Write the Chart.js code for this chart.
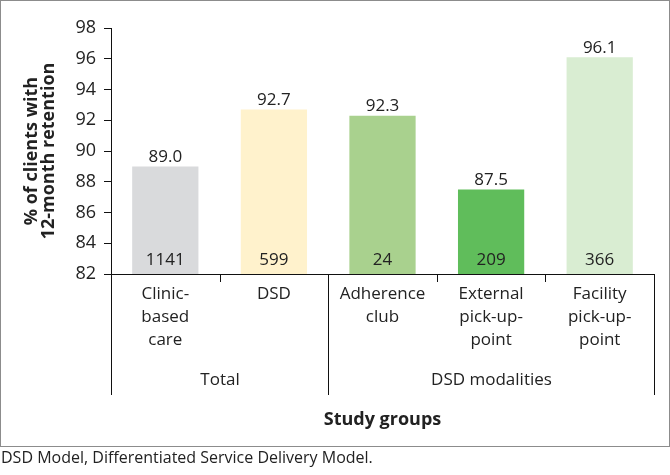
<!DOCTYPE html>
<html>
<head>
<meta charset="utf-8">
<script src="https://cdn.jsdelivr.net/npm/chart.js@4"></script>
<style>
  body { margin: 0; background: #fff; }
  #frame { position: absolute; left: 0; top: 0; width: 668px; height: 445px; border: 1px solid #8c8c8c; }
  #chart { position: absolute; left: 0; top: 0; }
  #note { position: absolute; left: 1px; top: 447px; font: 16px 'Open Sans', sans-serif; color: #222; line-height: 20px; white-space: nowrap; }
</style>
</head>
<body>
<div id="frame"></div>
<canvas id="chart" width="670" height="475"></canvas>
<div id="note">DSD Model, Differentiated Service Delivery Model.</div>
<script>
// داده‌ها
const categories = [['Clinic-', 'based', 'care'], ['DSD'], ['Adherence', 'club'], ['External', 'pick-up-', 'point'], ['Facility', 'pick-up-', 'point']];
const retention = [89.0, 92.7, 92.3, 87.5, 96.1];
const clientCounts = [1141, 599, 24, 209, 366];
const groupLabels = ['Total', 'DSD modalities'];
const groupSizes = [2, 3];
const yMin = 82, yMax = 98, yStep = 2;
const yTitle = ['% of clients with', '12-month retention'];
const xTitle = 'Study groups';

const barColors = ['#d9dadc', '#fff2cc', '#a9d18e', '#60bd5b', '#d9edd2'];
const textColor = '#222';
const lineColor = '#111';
const FONT = "'Open Sans', sans-serif";

Chart.defaults.font.family = FONT;
Chart.defaults.font.size = 17;
Chart.defaults.color = textColor;

// برچسب‌ها، خطوط گروه‌ها و عنوان‌ها
const extrasPlugin = {
    id: 'extras',
    afterDatasetsDraw(chart) {
        const ctx = chart.ctx;
        const meta = chart.getDatasetMeta(0);
        const area = chart.chartArea;
        ctx.save();
        ctx.fillStyle = textColor;
        ctx.font = '17px ' + FONT;
        ctx.textAlign = 'center';
        meta.data.forEach((bar, i) => {
            ctx.textBaseline = 'bottom';
            ctx.fillText(retention[i].toFixed(1), bar.x, bar.y - 1);
            ctx.textBaseline = 'middle';
            ctx.fillText(String(clientCounts[i]), bar.x, area.bottom - 14);
        });
        ctx.restore();
    },
    afterDraw(chart) {
        const ctx = chart.ctx;
        const x = chart.scales.x;
        const area = chart.chartArea;
        const edge = i => Math.round(x.getPixelForValue(i - 0.5)) + 0.5;

        ctx.save();
        ctx.strokeStyle = lineColor;
        ctx.lineWidth = 1;

        // مرز گروه‌ها (خط بلند) و مرز دسته‌ها (تیک کوتاه)
        const groupEdges = [0];
        groupSizes.forEach(s => groupEdges.push(groupEdges[groupEdges.length - 1] + s));
        for (let i = 0; i <= categories.length; i++) {
            const len = groupEdges.includes(i) ? 121 : 8;
            ctx.beginPath();
            ctx.moveTo(edge(i), area.bottom);
            ctx.lineTo(edge(i), area.bottom + len);
            ctx.stroke();
        }

        ctx.fillStyle = textColor;
        ctx.font = '17px ' + FONT;
        ctx.textAlign = 'center';
        ctx.textBaseline = 'middle';
        groupLabels.forEach((g, k) => {
            const cx = (edge(groupEdges[k]) + edge(groupEdges[k + 1])) / 2;
            ctx.fillText(g, cx, area.bottom + 106);
        });

        // عنوان محور x
        ctx.font = 'bold 18px ' + FONT;
        ctx.fillText(xTitle, (area.left + area.right) / 2, area.bottom + 146);

        // عنوان محور y
        ctx.translate(40, (area.top + area.bottom) / 2);
        ctx.rotate(-Math.PI / 2);
        ctx.font = 'bold 18px ' + FONT;
        ctx.fillText(yTitle[0], 0, -8);
        ctx.fillText(yTitle[1], 0, 9);
        ctx.restore();
    }
};

new Chart(document.getElementById('chart'), {
    type: 'bar',
    data: {
        labels: categories,
        datasets: [{
            data: retention,
            backgroundColor: barColors,
            borderWidth: 0,
            barPercentage: 0.61,
            categoryPercentage: 1.0
        }]
    },
    options: {
        responsive: false,
        animation: false,
        layout: { padding: { top: 28, right: 16, left: 0, bottom: 0 } },
        plugins: { legend: { display: false }, tooltip: { enabled: false } },
        scales: {
            x: {
                grid: { display: false, drawTicks: false },
                border: { display: true, color: lineColor },
                ticks: { padding: 9, maxRotation: 0, autoSkip: false, font: { size: 17, lineHeight: 1.35 } },
                afterFit: s => { s.height = 201; }
            },
            y: {
                min: yMin,
                max: yMax,
                ticks: { stepSize: yStep, padding: 8, font: { size: 18 } },
                grid: { drawOnChartArea: false, drawTicks: true, tickLength: 7, color: lineColor },
                border: { display: true, color: lineColor },
                afterFit: s => { s.width = 111; }
            }
        }
    },
    plugins: [extrasPlugin]
});
</script>
</body>
</html>
